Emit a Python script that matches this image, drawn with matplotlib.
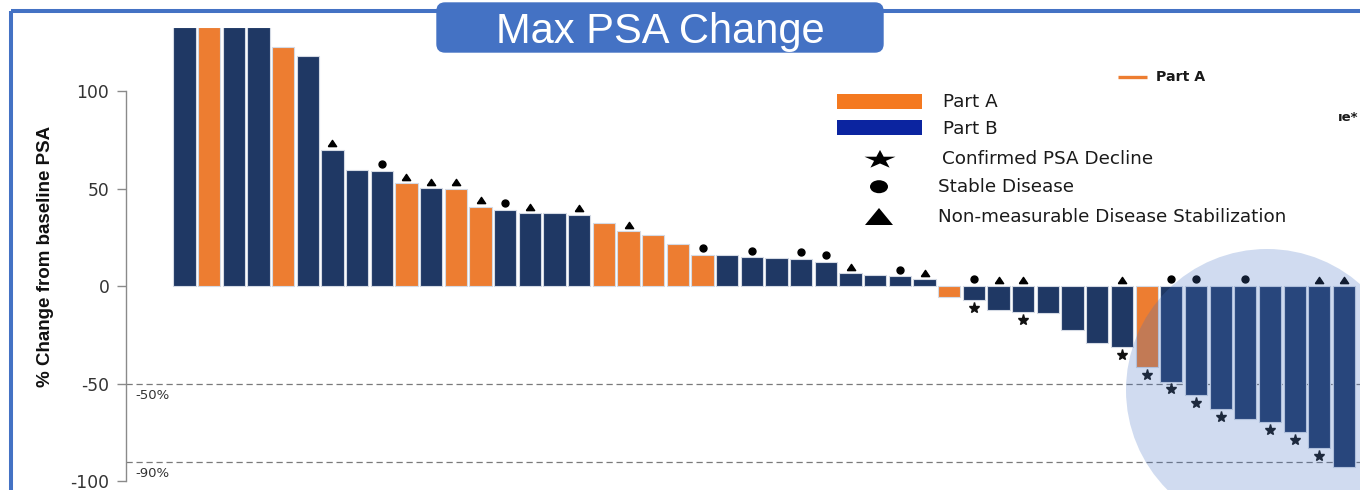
import numpy as np
import matplotlib
matplotlib.use("Agg")
import matplotlib.pyplot as plt
from matplotlib.patches import Rectangle, FancyBboxPatch, Circle, Ellipse, Polygon
from matplotlib.path import Path
from matplotlib.transforms import ScaledTranslation

# ---- data: maximum PSA change per patient (%), sorted waterfall ----
psa_change = [133, 133, 133, 133, 122.8, 118.3, 70.0, 59.8, 59.0, 52.8,
              50.3, 50.0, 40.8, 39.0, 37.5, 37.5, 36.7, 32.6, 28.1, 26.3,
              21.5, 16.0, 15.9, 14.8, 14.3, 14.0, 12.3, 6.6, 5.8, 5.0,
              3.6, -5.8, -7.0, -12.0, -13.2, -13.7, -22.5, -29.3, -31.4, -41.6,
              -49.0, -55.9, -63.1, -68.0, -69.6, -74.8, -83.0, -92.7]
study_part = ["B", "A", "B", "B", "A", "B", "B", "B", "B", "A",
              "B", "A", "A", "B", "B", "B", "B", "A", "A", "A",
              "A", "A", "B", "B", "B", "B", "B", "B", "B", "B",
              "B", "A", "B", "B", "B", "B", "B", "B", "B", "A",
              "B", "B", "B", "B", "B", "B", "B", "B"]
stable_disease = [8, 13, 21, 23, 25, 26, 29, 32, 40, 41, 43]
nonmeasurable_stab = [6, 9, 10, 11, 12, 14, 16, 18, 27, 30, 33, 34, 38, 46, 47]
confirmed_decline = [32, 34, 38, 39, 40, 41, 42, 44, 45, 46]
y_ticks = [-100, -50, 0, 50, 100]
thresholds = [-50, -90]
threshold_labels = ["-50%", "-90%"]

NAVY = "#1F3864"
ORANGE = "#ED7D31"
FRAME_BLUE = "#4472C4"
part_colors = {"A": ORANGE, "B": NAVY}

W, H = 1360, 490
fig = plt.figure(figsize=(W / 100, H / 100), dpi=100)
ax = fig.add_axes([126 / W, 9 / H, 1 - 126 / W, (481 - 28) / H])

x = np.arange(len(psa_change))
vals = np.array(psa_change, dtype=float)
ax.bar(x, vals, width=0.9, color=[part_colors[p] for p in study_part],
       edgecolor="#d4dae4", linewidth=0.8, zorder=2)

# response markers, offset a few points from the bar ends
def shifted(dy_pts):
    return ax.transData + ScaledTranslation(0, dy_pts / 72, fig.dpi_scale_trans)

tri_verts = [(-1, -0.75), (1, -0.75), (0, 0.75), (-1, -0.75)]
top_sd = np.maximum(vals[stable_disease], 0)
top_nm = np.maximum(vals[nonmeasurable_stab], 0)
bot_cd = np.minimum(vals[confirmed_decline], 0)
ax.plot(x[stable_disease], top_sd, ls="none", marker="o", ms=5.0,
        color="black", transform=shifted(4.9), zorder=3, clip_on=False)
ax.plot(x[nonmeasurable_stab], top_nm, ls="none", marker=tri_verts, ms=6.0,
        color="black", transform=shifted(4.6), zorder=3, clip_on=False)
ax.plot(x[confirmed_decline], bot_cd, ls="none", marker="*", ms=8.0,
        color="#111111", transform=shifted(-5.6), zorder=3, clip_on=False)

# threshold reference lines
for t, lab in zip(thresholds, threshold_labels):
    ax.axhline(t, color="#7a7a7a", lw=0.9, ls=(0, (5, 3)), zorder=1)
    ax.text(0.0075, t, lab, transform=ax.get_yaxis_transform()
            + ScaledTranslation(0, -12 / 100, fig.dpi_scale_trans),
            ha="left", va="center", fontsize=9.5, color="#333333",
            family="DejaVu Sans")

ax.set_xlim(-2.37, 47.65)
ax.set_ylim(-100, 132.5)
ax.set_xticks([])
ax.set_yticks(y_ticks)
ax.set_yticklabels([str(t) for t in y_ticks], family="DejaVu Sans",
                   fontsize=12.3, color="#333333")
ax.tick_params(axis="y", length=6.5, width=1.0, color="#8a8a8a", pad=5.5)
for s in ["top", "right", "bottom"]:
    ax.spines[s].set_visible(False)
ax.spines["left"].set_bounds(-100, 100)
ax.spines["left"].set_color("#8a8a8a")
ax.spines["left"].set_linewidth(1.0)
ax.set_ylabel("% Change from baseline PSA", family="Liberation Sans",
              fontweight="bold", fontsize=13.5, color="#111111")
ax.yaxis.set_label_coords(-0.058, 0.495)

# ---- overlay in pixel coordinates: frame, title banner, highlight, legend ----
ov = fig.add_axes([0, 0, 1, 1], zorder=10)
ov.set_xlim(0, W)
ov.set_ylim(H, 0)
ov.axis("off")
ov.patch.set_alpha(0)

ov.add_patch(Rectangle((11, 11), 1500, 600, fill=False, ec=FRAME_BLUE, lw=2.9))
ov.add_patch(FancyBboxPatch((445, 11), 430, 33,
                            boxstyle="round,pad=8,rounding_size=8",
                            fc=FRAME_BLUE, ec=FRAME_BLUE, lw=1))
ov.text(660, 43.5, "Max PSA Change", color="white", fontsize=30,
        family="Liberation Sans", ha="center", va="baseline")

# highlighted responders
ov.add_patch(Circle((1267, 390), 141, fc=FRAME_BLUE, ec="none", alpha=0.25))

# legend
lab_kw = dict(family="DejaVu Sans", fontsize=13.2, color="#1a1a1a",
              va="center", ha="left")
ov.add_patch(Rectangle((837, 94.5), 85, 14.5, fc="#F47920", ec="none"))
ov.add_patch(Rectangle((837, 120), 85, 14.5, fc="#0B24A0", ec="none"))
ov.text(943, 101.5, "Part A", **lab_kw)
ov.text(943, 128.5, "Part B", **lab_kw)
star = Path.unit_regular_star(5, 0.381966).vertices
ov.add_patch(Polygon(np.column_stack([880 + 16.3 * star[:, 0],
                                      158.8 - 9.8 * (star[:, 1] - 0.0955)]),
                     closed=True, fc="black", ec="none"))
ov.text(941.5, 159, "Confirmed PSA Decline", **lab_kw)
ov.add_patch(Ellipse((879, 186.7), 18, 13, fc="black", ec="none"))
ov.text(938, 187, "Stable Disease", **lab_kw)
ov.add_patch(Polygon([(865, 225), (893, 225), (879, 208)], closed=True,
                     fc="black", ec="none"))
ov.text(937.5, 216.5, "Non-measurable Disease Stabilization", **lab_kw)

# small secondary key in the corner
ov.plot([1118, 1147], [77, 77], color=ORANGE, lw=2.4, solid_capstyle="butt")
ov.text(1156, 77, "Part A", family="DejaVu Sans", fontweight="bold",
        fontsize=10.2, color="#1a1a1a", va="center", ha="left")
ov.text(1358, 117.5, "ıe*", family="DejaVu Sans", fontweight="bold",
        fontsize=9.5, color="#1a1a1a", va="center", ha="right")

fig.savefig("out.png", dpi=100)
